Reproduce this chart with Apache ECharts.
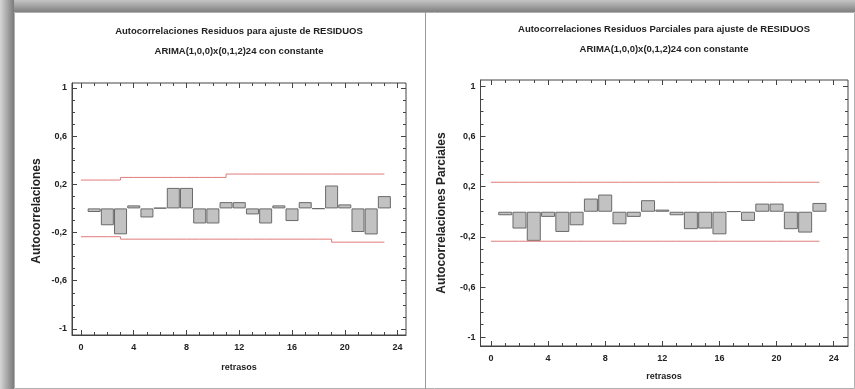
<!DOCTYPE html>
<html>
<head>
<meta charset="utf-8">
<script src="https://cdn.jsdelivr.net/npm/echarts@6/dist/echarts.min.js"></script>
<style>
html,body{margin:0;padding:0;background:#fff;}
#c{width:855px;height:389px;}
</style>
</head>
<body>
<div id="c"></div>
<script>
// ---- data ----
const lags = [1,2,3,4,5,6,7,8,9,10,11,12,13,14,15,16,17,18,19,20,21,22,23];
const acf  = [-0.03,-0.14,-0.215,0.025,-0.075,0.004,0.17,0.17,-0.125,-0.125,0.052,0.052,-0.05,-0.125,0.025,-0.105,0.052,-0.004,0.19,0.033,-0.196,-0.216,0.102];
const pacf = [-0.028,-0.134,-0.232,-0.041,-0.161,-0.108,0.105,0.137,-0.1,-0.041,0.092,0.017,-0.028,-0.139,-0.134,-0.18,0.003,-0.073,0.065,0.065,-0.139,-0.166,0.07];
const limitLags = [0,1,2,3,4,5,6,7,8,9,10,11,12,13,14,15,16,17,18,19,20,21,22,23];
const acfUpper  = [0.235,0.235,0.235,0.235,0.257,0.257,0.257,0.257,0.257,0.257,0.257,0.257,0.285,0.285,0.285,0.285,0.285,0.285,0.285,0.285,0.285,0.285,0.285,0.285];
const acfLower  = [-0.235,-0.235,-0.235,-0.235,-0.255,-0.255,-0.255,-0.255,-0.255,-0.255,-0.255,-0.255,-0.255,-0.255,-0.255,-0.255,-0.255,-0.255,-0.255,-0.255,-0.28,-0.28,-0.28,-0.28];
const pacfUpper = [0.235,0.235,0.235,0.235,0.235,0.235,0.235,0.235,0.235,0.235,0.235,0.235,0.235,0.235,0.235,0.235,0.235,0.235,0.235,0.235,0.235,0.235,0.235,0.235];
const pacfLower = [-0.235,-0.235,-0.235,-0.235,-0.235,-0.235,-0.235,-0.235,-0.235,-0.235,-0.235,-0.235,-0.235,-0.235,-0.235,-0.235,-0.235,-0.235,-0.235,-0.235,-0.235,-0.235,-0.235,-0.235];
const xTickLabels = [0,4,8,12,16,20,24];
const xMinorTicks = [0,1,2,3,4,5,6,7,8,9,10,11,12,13,14,15,16,17,18,19,20,21,22,23,24];
const yTickLabels = [-1,-0.6,-0.2,0.2,0.6,1];
const yMinorTicks = [-1,-0.9,-0.8,-0.7,-0.6,-0.5,-0.4,-0.3,-0.2,-0.1,0,0.1,0.2,0.3,0.4,0.5,0.6,0.7,0.8,0.9,1];
const titles1 = ['Autocorrelaciones Residuos para ajuste de RESIDUOS','Autocorrelaciones Residuos Parciales para ajuste de RESIDUOS'];
const titles2 = ['ARIMA(1,0,0)x(0,1,2)24 con constante','ARIMA(1,0,0)x(0,1,2)24 con constante'];
const yNames = ['Autocorrelaciones','Autocorrelaciones Parciales'];
const xName = 'retrasos';

// ---- layout ----
const FONT = 'Liberation Sans, Arial, sans-serif';
const TXT = '#222';
const panels = [
  {left:72, top:83, width:334, height:252, xmin:-0.68, xmax:24.64, ymin:-1.05, ymax:1.04, barW:13,
   vals:acf, up:acfUpper, lo:acfLower, tx:239, t1y:31, t2y:51, ynx:37, yny:211, xny:368},
  {left:480.5, top:80, width:367.5, height:266, xmin:-0.73, xmax:25, ymin:-1.07, ymax:1.05, barW:14,
   vals:pacf, up:pacfUpper, lo:pacfLower, tx:664, t1y:29, t2y:49, ynx:442, yny:213, xny:377}
];

const fmtY = v => (v === 1 ? '1' : v === -1 ? '-1' : v.toFixed(1).replace('.', ','));
const lab = {fontFamily:FONT, fontSize:9, fontWeight:'bold', color:TXT};
const lineC = '#444';

const grid = [], xAxis = [], yAxis = [], series = [], graphic = [];

// frame
graphic.push({type:'rect', z:-100, shape:{x:0,y:0,width:855,height:389}, style:{fill:'#ffffff'}});
graphic.push({type:'rect', z:-99, shape:{x:0,y:0,width:855,height:12},
  style:{fill:new echarts.graphic.LinearGradient(0,0,0,1,[{offset:0,color:'#c4c4c4'},{offset:1,color:'#808080'}])}});
graphic.push({type:'rect', z:-99, shape:{x:0,y:0,width:14,height:389},
  style:{fill:new echarts.graphic.LinearGradient(0,0,1,0,[{offset:0,color:'#d6d6d6'},{offset:1,color:'#7a7a7a'}])}});
graphic.push({type:'rect', z:-98, shape:{x:14.5,y:12.5,width:840,height:376}, style:{fill:'#ffffff', stroke:'#b0b0b0', lineWidth:1}});
graphic.push({type:'line', z:-97, shape:{x1:425.5,y1:12,x2:425.5,y2:389}, style:{stroke:'#9a9a9a', lineWidth:1}});

panels.forEach((p, gi) => {
  grid.push({left:p.left, top:p.top, width:p.width, height:p.height, show:true, borderColor:lineC, borderWidth:1, backgroundColor:'transparent', containLabel:false});
  const hiddenLine = {show:false, onZero:false};
  const xb = {gridIndex:gi, type:'value', min:p.xmin, max:p.xmax, splitLine:{show:false}, axisLine:hiddenLine};
  const xi = xAxis.length;
  xAxis.push(Object.assign({}, xb, {position:'bottom', axisLine:{show:true, onZero:false, lineStyle:{color:lineC}},
    axisTick:{show:true, inside:true, length:5, customValues:xTickLabels, lineStyle:{color:lineC}},
    axisLabel:{show:true, customValues:xTickLabels, margin:8, ...lab}}));
  xAxis.push(Object.assign({}, xb, {position:'bottom', axisTick:{show:true, inside:true, length:3, customValues:xMinorTicks, lineStyle:{color:lineC}}, axisLabel:{show:false}}));
  xAxis.push(Object.assign({}, xb, {position:'top', axisTick:{show:true, inside:true, length:5, customValues:xTickLabels, lineStyle:{color:lineC}}, axisLabel:{show:false}}));
  xAxis.push(Object.assign({}, xb, {position:'top', axisTick:{show:true, inside:true, length:3, customValues:xMinorTicks, lineStyle:{color:lineC}}, axisLabel:{show:false}}));
  const yb = {gridIndex:gi, type:'value', min:p.ymin, max:p.ymax, splitLine:{show:false}, axisLine:hiddenLine};
  const yi = yAxis.length;
  yAxis.push(Object.assign({}, yb, {position:'left', axisLine:{show:true, onZero:false, lineStyle:{color:lineC}},
    axisTick:{show:true, inside:true, length:5, customValues:yTickLabels, lineStyle:{color:lineC}},
    axisLabel:{show:true, customValues:yTickLabels, margin:5, formatter:fmtY, ...lab}}));
  yAxis.push(Object.assign({}, yb, {position:'left', axisTick:{show:true, inside:true, length:3, customValues:yMinorTicks, lineStyle:{color:lineC}}, axisLabel:{show:false}}));
  yAxis.push(Object.assign({}, yb, {position:'right', axisTick:{show:true, inside:true, length:5, customValues:yTickLabels, lineStyle:{color:lineC}}, axisLabel:{show:false}}));
  yAxis.push(Object.assign({}, yb, {position:'right', axisTick:{show:true, inside:true, length:3, customValues:yMinorTicks, lineStyle:{color:lineC}}, axisLabel:{show:false}}));

  series.push({type:'bar', xAxisIndex:xi, yAxisIndex:yi, barWidth:p.barW, silent:true,
    itemStyle:{color:'#c2c2c2', borderColor:'#6a6a6a', borderWidth:1},
    data: lags.map((l, i) => [l, p.vals[i]])});
  [p.up, p.lo].forEach(arr => {
    series.push({type:'line', xAxisIndex:xi, yAxisIndex:yi, step:'start', symbol:'none', silent:true,
      lineStyle:{color:'#e07a7a', width:1}, data: limitLags.map((l, i) => [l, arr[i]])});
  });

  graphic.push({type:'text', z:50, x:p.tx, y:p.t1y, style:{text:titles1[gi], font:'bold 9.5px ' + FONT, fill:TXT, textAlign:'center', textVerticalAlign:'middle'}});
  graphic.push({type:'text', z:50, x:p.tx, y:p.t2y, style:{text:titles2[gi], font:'bold 9.5px ' + FONT, fill:TXT, textAlign:'center', textVerticalAlign:'middle'}});
  graphic.push({type:'text', z:50, x:p.ynx, y:p.yny, rotation:Math.PI/2, style:{text:yNames[gi], font:'bold 12px ' + FONT, fill:TXT, textAlign:'center', textVerticalAlign:'middle'}});
  graphic.push({type:'text', z:50, x:p.tx, y:p.xny, style:{text:xName, font:'bold 9px ' + FONT, fill:TXT, textAlign:'center', textVerticalAlign:'middle'}});
});

const chart = echarts.init(document.getElementById('c'), null, {renderer:'canvas'});
chart.setOption({animation:false, backgroundColor:'#ffffff', grid, xAxis, yAxis, series, graphic});
</script>
</body>
</html>
